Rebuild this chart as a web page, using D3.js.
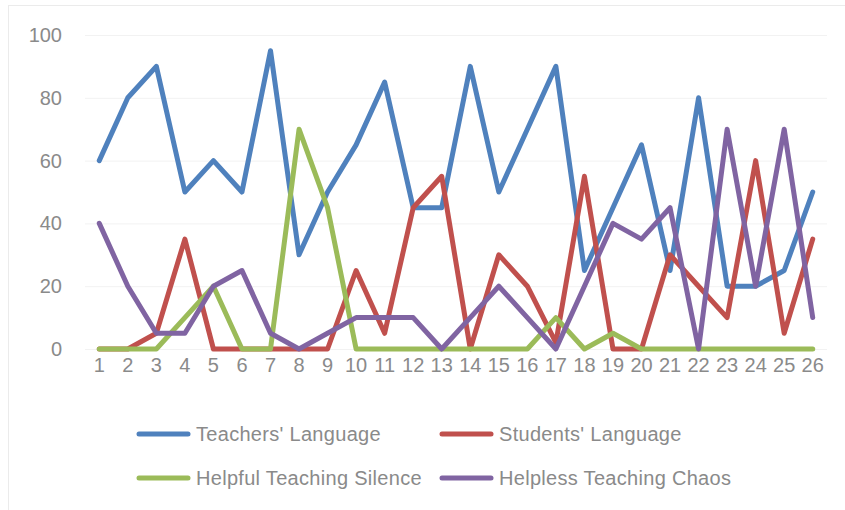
<!DOCTYPE html>
<html>
<head>
<meta charset="utf-8">
<script src="https://cdn.jsdelivr.net/npm/d3@7"></script>
<style>
  body { margin: 0; background: #fff; }
  text { font-family: "Liberation Sans", Arial, sans-serif; fill: #8a8a8a; }
</style>
</head>
<body>
<div id="chart"></div>
<script>
// categories (lesson segments)
const categories = d3.range(1, 27).map(String);
const yTicks = [0, 20, 40, 60, 80, 100];

// series values
const teachersLanguage = [60, 80, 90, 50, 60, 50, 95, 30, 50, 65, 85, 45, 45, 90, 50, 70, 90, 25, 45, 65, 25, 80, 20, 20, 25, 50];
const studentsLanguage = [0, 0, 5, 35, 0, 0, 0, 0, 0, 25, 5, 45, 55, 0, 30, 20, 2, 55, 0, 0, 30, 20, 10, 60, 5, 35];
const helpfulSilence   = [0, 0, 0, 10, 20, 0, 0, 70, 45, 0, 0, 0, 0, 0, 0, 0, 10, 0, 5, 0, 0, 0, 0, 0, 0, 0];
const helplessChaos    = [40, 20, 5, 5, 20, 25, 5, 0, 5, 10, 10, 10, 0, 10, 20, 10, 0, 20, 40, 35, 45, 0, 70, 20, 70, 10];

const seriesNames = ["Teachers' Language", "Students' Language", "Helpful Teaching Silence", "Helpless Teaching Chaos"];
const seriesColors = ["#4f81bd", "#c0504d", "#9bbb59", "#8064a2"];

const series = [teachersLanguage, studentsLanguage, helpfulSilence, helplessChaos].map((v, i) => ({
    name: seriesNames[i],
    color: seriesColors[i],
    values: v
}));

const width = 845, height = 510;
const svg = d3.select('#chart').append('svg')
    .attr('width', width)
    .attr('height', height);

// faint chart border
svg.append('rect')
    .attr('x', 8.5).attr('y', 5.5)
    .attr('width', 860).attr('height', 530)
    .attr('fill', 'none')
    .attr('stroke', '#ebebeb');

const x = d3.scaleBand().domain(categories).range([85, 827]);
const y = d3.scaleLinear().domain([0, 100]).range([349, 35]);

// gridlines
svg.append('g').selectAll('line')
    .data(yTicks)
    .enter().append('line')
    .attr('x1', 85).attr('x2', 827)
    .attr('y1', d => y(d) + 0.5).attr('y2', d => y(d) + 0.5)
    .attr('stroke', '#f2f2f2');

// y tick labels
svg.append('g').selectAll('text')
    .data(yTicks)
    .enter().append('text')
    .attr('x', 62)
    .attr('y', d => y(d))
    .attr('dy', '0.35em')
    .attr('text-anchor', 'end')
    .style('font-size', '20px')
    .text(d => d);

// x tick labels
svg.append('g').selectAll('text')
    .data(categories)
    .enter().append('text')
    .attr('x', d => x(d) + x.bandwidth() / 2)
    .attr('y', 358)
    .attr('dy', '0.71em')
    .attr('text-anchor', 'middle')
    .style('font-size', '20px')
    .text(d => d);

const line = d3.line()
    .x((d, i) => x(categories[i]) + x.bandwidth() / 2)
    .y(d => y(d));

svg.append('g').selectAll('path')
    .data(series)
    .enter().append('path')
    .attr('d', d => line(d.values))
    .attr('fill', 'none')
    .attr('stroke', d => d.color)
    .attr('stroke-width', 5)
    .attr('stroke-linejoin', 'round')
    .attr('stroke-linecap', 'round');

// legend, two rows of two
const legendPos = [[139, 434], [442, 434], [139, 478], [442, 478]];
const legend = svg.append('g').selectAll('g')
    .data(series)
    .enter().append('g')
    .attr('transform', (d, i) => `translate(${legendPos[i][0]},${legendPos[i][1]})`);

legend.append('line')
    .attr('x1', 0).attr('x2', 49)
    .attr('stroke', d => d.color)
    .attr('stroke-width', 5)
    .attr('stroke-linecap', 'round');

legend.append('text')
    .attr('x', 57)
    .attr('dy', '0.35em')
    .style('font-size', '20px')
    .style('letter-spacing', '0.3px')
    .text(d => d.name);
</script>
</body>
</html>
